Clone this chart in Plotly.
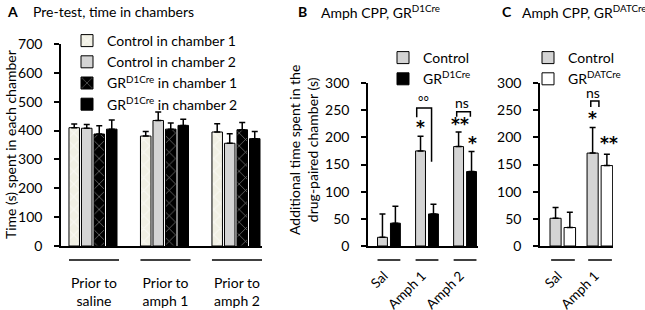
import plotly.graph_objects as go

# ---------------- data ----------------
groups_a = ["Prior to<br>saline", "Prior to<br>amph 1", "Prior to<br>amph 2"]
ctrl_ch1 = [410, 381, 395]
ctrl_ch1_err = [13, 16, 29]
ctrl_ch2 = [408, 435, 356]
ctrl_ch2_err = [13, 29, 33]
gr_ch1 = [388, 405, 403]
gr_ch1_err = [29, 21, 25]
gr_ch2 = [405, 418, 372]
gr_ch2_err = [32, 21, 25]

groups_b = ["Sal", "Amph 1", "Amph 2"]
b_ctrl = [16, 175, 183]
b_ctrl_err = [43, 27, 27]
b_gr = [42, 59, 137]
b_gr_err = [31, 18, 37]

groups_c = ["Sal", "Amph 1"]
c_ctrl = [51, 171]
c_ctrl_err = [20, 47]
c_gr = [34, 148]
c_gr_err = [28, 21]

FONT = "Lato, 'Open Sans', sans-serif"
STAR_FONT = "'DejaVu Sans', sans-serif"
W, H = 645, 310


def px(x):
    return x / W


def py(y):
    return 1 - y / H


def err(vals):
    return dict(type="data", array=vals, arrayminus=[0] * len(vals), symmetric=False,
                color="black", thickness=1.5, width=3)


fig = go.Figure()
line = dict(color="black", width=1)

# ---------- panel A ----------
xa = list(range(len(groups_a)))
wa = 0.147
specs_a = [
    ("Control in chamber 1", ctrl_ch1, ctrl_ch1_err, dict(color="#f1f0e4", line=line,
        pattern=dict(shape="x", fgcolor="white", bgcolor="#f1f0e4", size=9, solidity=0.25))),
    ("Control in chamber 2", ctrl_ch2, ctrl_ch2_err, dict(color="#d4d4d4", line=line)),
    ("GR<sup>D1Cre</sup> in chamber 1", gr_ch1, gr_ch1_err, dict(color="black", line=line,
        pattern=dict(shape="x", fgcolor="white", bgcolor="black", size=9, solidity=0.15))),
    ("GR<sup>D1Cre</sup> in chamber 2", gr_ch2, gr_ch2_err, dict(color="black", line=line)),
]
for i, (name, vals, e, mk) in enumerate(specs_a):
    fig.add_trace(go.Bar(x=xa, y=vals, name=name, width=wa, offset=-0.35 + i * 0.175,
                         marker=mk, error_y=err(e), xaxis="x", yaxis="y", legend="legend"))

# ---------- panel B ----------
xb = list(range(len(groups_b)))
fig.add_trace(go.Bar(x=xb, y=b_ctrl, name="Control", width=0.26, offset=-0.30,
                     marker=dict(color="#d4d4d4", line=line), error_y=err(b_ctrl_err),
                     xaxis="x2", yaxis="y2", legend="legend2"))
fig.add_trace(go.Bar(x=xb, y=b_gr, name="GR<sup>D1Cre</sup>", width=0.26, offset=0.04,
                     marker=dict(color="black", line=line), error_y=err(b_gr_err),
                     xaxis="x2", yaxis="y2", legend="legend2"))

# ---------- panel C ----------
xc = list(range(len(groups_c)))
fig.add_trace(go.Bar(x=xc, y=c_ctrl, name="Control", width=0.30, offset=-0.35,
                     marker=dict(color="#d4d4d4", line=line), error_y=err(c_ctrl_err),
                     xaxis="x3", yaxis="y3", legend="legend3"))
fig.add_trace(go.Bar(x=xc, y=c_gr, name="GR<sup>DATCre</sup>", width=0.31, offset=0.03,
                     marker=dict(color="white", line=line), error_y=err(c_gr_err),
                     xaxis="x3", yaxis="y3", legend="legend3"))

yax = dict(showline=True, linecolor="black", linewidth=1.5, ticks="outside", ticklen=5,
           tickwidth=1.5, tickcolor="black", showgrid=False, zeroline=False, automargin=False,
           ticklabelstandoff=9, tickfont=dict(size=14, color="black", family=FONT))
xax = dict(showline=True, linecolor="black", linewidth=1.5, ticks="", showgrid=False,
           zeroline=False, automargin=False, tickfont=dict(size=14, color="black", family=FONT))

fig.update_layout(
    width=W, height=H, margin=dict(l=0, r=0, t=0, b=0, autoexpand=False),
    plot_bgcolor="white", paper_bgcolor="white",
    font=dict(family=FONT, size=14, color="black"),
    barmode="overlay",
    xaxis=dict(xax, domain=[px(61), px(262)], range=[-0.4615, 2.35], tickvals=xa,
               ticktext=groups_a, ticklabelstandoff=23),
    yaxis=dict(yax, domain=[py(246), py(44)], range=[0, 700], dtick=100, anchor="x"),
    xaxis2=dict(xax, domain=[px(368), px(478)], range=[-0.55, 2.34], tickvals=xb,
                ticktext=groups_b, tickangle=-45, ticklabelstandoff=15, ticklabelshift=-5,
                tickfont=dict(size=13.5, color="black", family=FONT), anchor="y2"),
    yaxis2=dict(yax, domain=[py(246), py(83)], range=[0, 300], dtick=50, anchor="x2"),
    xaxis3=dict(xax, domain=[px(540), px(613)], range=[-0.62, 1.35], tickvals=xc,
                ticktext=groups_c, tickangle=-45, ticklabelstandoff=15, ticklabelshift=-5,
                tickfont=dict(size=13.5, color="black", family=FONT), anchor="y3"),
    yaxis3=dict(yax, domain=[py(246), py(83)], range=[0, 300], dtick=50, anchor="x3"),
    legend=dict(x=px(67), y=py(25), xanchor="left", yanchor="top", bgcolor="rgba(0,0,0,0)",
                font=dict(size=14, color="black"), tracegroupgap=0, itemwidth=30),
    legend2=dict(x=px(383), y=py(42), xanchor="left", yanchor="top", bgcolor="rgba(0,0,0,0)",
                 font=dict(size=14, color="black"), itemwidth=30),
    legend3=dict(x=px(528), y=py(42), xanchor="left", yanchor="top", bgcolor="rgba(0,0,0,0)",
                 font=dict(size=14, color="black"), itemwidth=30),
    showlegend=True,
)

ann = []
# panel titles
for x, txt in [(5, "<b>A</b>"), (31, "Pre-test, time in chambers"),
               (296, "<b>B</b>"), (319, "Amph CPP, GR<sup>D1Cre</sup>"),
               (500, "<b>C</b>"), (520, "Amph CPP, GR<sup>DATCre</sup>")]:
    ann.append(dict(x=px(x), y=py(11), xref="paper", yref="paper", text=txt, showarrow=False,
                    xanchor="left", yanchor="middle", font=dict(size=14, color="black")))
# y titles
ann.append(dict(x=px(10), y=py(145), xref="paper", yref="paper", textangle=-90,
                xanchor="center", yanchor="middle",
                text="Time (s) spent in each chamber", showarrow=False,
                font=dict(size=14, color="black")))
ann.append(dict(x=px(303), y=py(150), xref="paper", yref="paper", textangle=-90,
                xanchor="center", yanchor="middle",
                text="Additional time spent in the<br>drug-paired chamber (s)", showarrow=False,
                font=dict(size=14, color="black")))
# significance marks
marks = [
    ("x2", "y2", 0.92, 267, "°°", 13, FONT), ("x2", "y2", 0.84, 219, "<b>*</b>", 17, STAR_FONT),
    ("x2", "y2", 1.93, 264, "ns", 14, FONT), ("x2", "y2", 1.86, 224, "<b>**</b>", 17, STAR_FONT),
    ("x2", "y2", 2.19, 189, "<b>*</b>", 17, STAR_FONT),
    ("x3", "y3", 0.80, 283, "ns", 14, FONT), ("x3", "y3", 0.80, 236, "<b>*</b>", 17, STAR_FONT),
    ("x3", "y3", 1.24, 189, "<b>**</b>", 17, STAR_FONT),
]
for xr, yr, x, y, t, s, f in marks:
    ann.append(dict(x=x, y=y, xref=xr, yref=yr, text=t, showarrow=False,
                    font=dict(size=s, color="black", family=f), xanchor="center",
                    yanchor="middle"))
fig.update_layout(annotations=ann)

shapes = []
# group underlines
for xr, xs, half in [("x", xa, 0.35), ("x2", xb, 0.30), ("x3", xc, 0.32)]:
    for xv in xs:
        shapes.append(dict(type="line", xref=xr, yref="paper", x0=xv - half, x1=xv + half,
                           y0=py(260), y1=py(260), line=dict(color="black", width=1.5)))
# brackets
brackets = [
    ("x2", "y2", 0.73, 1.12, 254, 237, 155),
    ("x2", "y2", 1.78, 2.14, 247, 238, 238),
    ("x3", "y3", 0.75, 0.97, 267, 256, 256),
]
for xr, yr, xl, xrr, top, lb, rb in brackets:
    shapes.append(dict(type="path", xref=xr, yref=yr,
                       path=f"M {xl},{lb} L {xl},{top} L {xrr},{top} L {xrr},{rb}",
                       line=dict(color="black", width=1.5)))
fig.update_layout(shapes=shapes)

fig.write_html("out.html", config={"displayModeBar": False},
               post_script="document.body.style.margin='0px';document.body.style.overflow='hidden';")
